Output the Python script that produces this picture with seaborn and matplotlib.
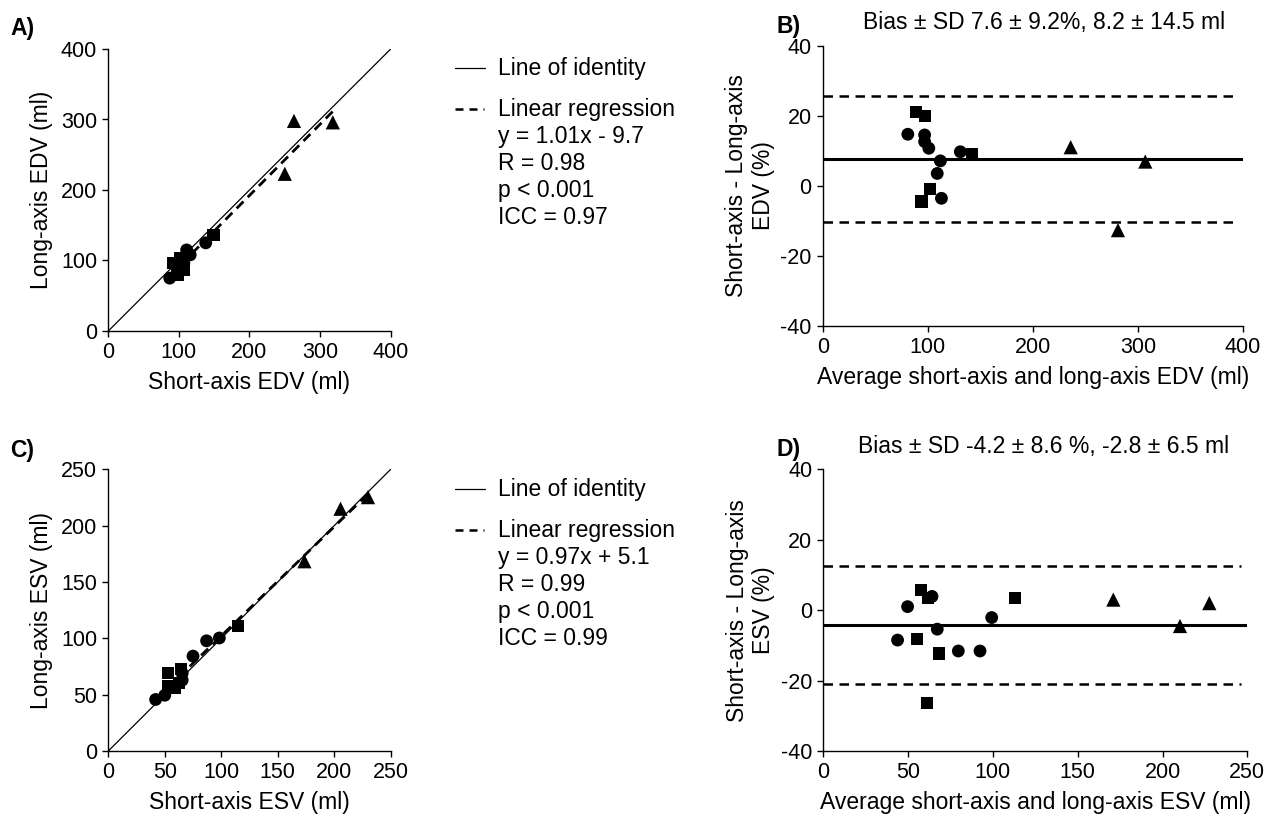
import pandas as pd
import matplotlib
matplotlib.use('Agg')
import matplotlib.pyplot as plt
from matplotlib.lines import Line2D
import seaborn as sns

# ---- EDV: short-axis vs long-axis (ml) ----
edv_circle_sa = [87, 104, 103, 107, 138, 116, 110, 111]
edv_circle_la = [75, 90, 91, 96, 125, 108, 107, 115]
edv_square_sa = [98, 107, 149, 102, 92]
edv_square_la = [79, 87, 136, 103, 96]
edv_triangle_sa = [250, 318, 263]
edv_triangle_la = [223, 296, 298]

# ---- EDV Bland-Altman: mean (ml) and difference (%) ----
edv_circle_mean = [81, 97, 97, 101, 131, 112, 109, 113]
edv_circle_diff = [14.7, 14.5, 12.6, 10.7, 9.7, 7.1, 3.5, -3.6]
edv_square_mean = [89, 97, 142, 102, 94]
edv_square_diff = [21.0, 20.0, 9.0, -1.0, -4.5]
edv_triangle_mean = [236, 307, 281]
edv_triangle_diff = [11.0, 6.9, -12.7]

# ---- ESV: short-axis vs long-axis (ml) ----
esv_circle_sa = [50.0, 41.9, 65.4, 65.4, 75.0, 87.0, 98.3]
esv_circle_la = [49.5, 45.7, 62.9, 69.0, 84.2, 97.8, 100.3]
esv_square_sa = [59.4, 53.2, 64.2, 52.9, 115.0, 62.8]
esv_square_la = [56.2, 57.6, 72.6, 68.9, 111.0, 60.6]
esv_triangle_sa = [173.6, 229.9, 205.6]
esv_triangle_la = [168.4, 225.3, 215.0]

# ---- ESV Bland-Altman ----
esv_circle_mean = [49.7, 43.8, 64.1, 67.2, 79.6, 92.4, 99.3]
esv_circle_diff = [1.0, -8.5, 3.9, -5.4, -11.6, -11.6, -2.1]
esv_square_mean = [57.8, 55.4, 68.4, 60.9, 113.0, 61.7]
esv_square_diff = [5.6, -8.1, -12.3, -26.4, 3.5, 3.5]
esv_triangle_mean = [171, 227.6, 210.3]
esv_triangle_diff = [3.0, 2.0, -4.5]

# regression / agreement stats
edv_slope, edv_icpt = 1.01, -9.7
esv_slope, esv_icpt = 0.97, 5.1
edv_bias, edv_sd = 7.6, 9.2
esv_bias, esv_sd = -4.2, 8.6

edv_stats = ['y = 1.01x - 9.7', 'R = 0.98', 'p < 0.001', 'ICC = 0.97']
esv_stats = ['y = 0.97x + 5.1', 'R = 0.99', 'p < 0.001', 'ICC = 0.99']

MARKERS = {'circle': 'o', 'square': 's', 'triangle': '^'}
SIZES = {'circle': 85, 'square': 76, 'triangle': 105}


def make_df(c, s, t, xname, yname):
    rows = []
    for shape, (xs, ys) in zip(['circle', 'square', 'triangle'], [c, s, t]):
        for x, y in zip(xs, ys):
            rows.append({xname: x, yname: y, 'shape': shape})
    return pd.DataFrame(rows)


df_a = make_df((edv_circle_sa, edv_circle_la), (edv_square_sa, edv_square_la),
               (edv_triangle_sa, edv_triangle_la), 'sa', 'la')
df_b = make_df((edv_circle_mean, edv_circle_diff), (edv_square_mean, edv_square_diff),
               (edv_triangle_mean, edv_triangle_diff), 'mean', 'diff')
df_c = make_df((esv_circle_sa, esv_circle_la), (esv_square_sa, esv_square_la),
               (esv_triangle_sa, esv_triangle_la), 'sa', 'la')
df_d = make_df((esv_circle_mean, esv_circle_diff), (esv_square_mean, esv_square_diff),
               (esv_triangle_mean, esv_triangle_diff), 'mean', 'diff')

sns.set_style('ticks')
plt.rcParams['font.family'] = ['Liberation Sans', 'DejaVu Sans']
plt.rcParams['axes.unicode_minus'] = False
plt.rcParams['text.color'] = 'black'
plt.rcParams['axes.labelcolor'] = 'black'
plt.rcParams['axes.edgecolor'] = 'black'
plt.rcParams['xtick.color'] = 'black'
plt.rcParams['ytick.color'] = 'black'
plt.rcParams['axes.linewidth'] = 1.0
plt.rcParams['xtick.major.width'] = 1.0
plt.rcParams['ytick.major.width'] = 1.0
plt.rcParams['xtick.major.size'] = 4.5
plt.rcParams['ytick.major.size'] = 4.5
plt.rcParams['xtick.labelsize'] = 15.5
plt.rcParams['ytick.labelsize'] = 15.5
plt.rcParams['axes.labelsize'] = 16.5

W, H = 1266, 822
fig = plt.figure(figsize=(W / 100, H / 100), dpi=100)


def box(x0, y0, x1, y1):
    return [x0 / W, 1 - y1 / H, (x1 - x0) / W, (y1 - y0) / H]


def fx(px):
    return px / W


def fy(py):
    return 1 - py / H


def scatter(ax, df, x, y):
    sns.scatterplot(data=df, x=x, y=y, style='shape', markers=MARKERS,
                    size='shape', sizes=SIZES, color='black', linewidth=0,
                    legend=False, ax=ax, clip_on=False, zorder=3)


def correlation_panel(ax, df, lim, step, slope, icpt, name):
    ax.plot([0, lim], [0, lim], color='black', lw=0.9, zorder=2)
    x0, x1 = df['sa'].min(), df['sa'].max()
    ax.plot([x0, x1], [slope * x0 + icpt, slope * x1 + icpt], color='black',
            lw=2.0, ls=(0, (3.5, 2.2)), zorder=2)
    scatter(ax, df, 'sa', 'la')
    ax.set_xlim(0, lim)
    ax.set_ylim(0, lim)
    ax.set_xticks(range(0, lim + 1, step))
    ax.set_yticks(range(0, lim + 1, step))
    ax.set_xlabel(f'Short-axis {name} (ml)', labelpad=6)
    ax.set_ylabel(f'Long-axis {name} (ml)', labelpad=6)
    sns.despine(ax=ax)


def ba_panel(ax, df, xlim, bias, sd, name):
    ax.axhline(bias, color='black', lw=2.2, zorder=2)
    for k in (-1.96, 1.96):
        ax.axhline(bias + k * sd, xmin=0, xmax=0.985, color='black', lw=1.8,
                   ls=(0, (3.8, 2.6)), zorder=2)
    scatter(ax, df, 'mean', 'diff')
    ax.set_xlim(0, xlim)
    ax.set_ylim(-40, 40)
    ax.set_yticks([-40, -20, 0, 20, 40])
    ax.set_xlabel(f'Average short-axis and long-axis {name} (ml)', labelpad=6)
    ax.set_ylabel(f'Short-axis - Long-axis\n{name} (%)', labelpad=4)
    sns.despine(ax=ax)


ax_a = fig.add_axes(box(108.3, 49, 390.7, 331))
ax_b = fig.add_axes(box(822.7, 45.7, 1243, 325.7))
ax_c = fig.add_axes(box(108.3, 469.3, 390.7, 751))
ax_d = fig.add_axes(box(823.3, 469.3, 1247.3, 751))

correlation_panel(ax_a, df_a, 400, 100, edv_slope, edv_icpt, 'EDV')
correlation_panel(ax_c, df_c, 250, 50, esv_slope, esv_icpt, 'ESV')
ba_panel(ax_b, df_b, 400, edv_bias, edv_sd, 'EDV')
ax_b.set_xticks(range(0, 401, 100))
ba_panel(ax_d, df_d, 250, esv_bias, esv_sd, 'ESV')
ax_d.set_xticks(range(0, 251, 50))

# panel titles
fig.text(fx(1044), fy(23), 'Bias ± SD 7.6 ± 9.2%, 8.2 ± 14.5 ml',
         ha='center', va='center', fontsize=16.5)
fig.text(fx(1044), fy(446), 'Bias ± SD -4.2 ± 8.6 %, -2.8 ± 6.5 ml',
         ha='center', va='center', fontsize=16.5)

# panel letters
for lab, (px, py) in {'A)': (10, 28), 'B)': (777, 27),
                      'C)': (10, 450), 'D)': (777, 449)}.items():
    fig.text(fx(px), fy(py), lab, ha='left', va='center', fontsize=16.5,
             fontweight='bold')


# hand-made legends
def legend_block(top, stats):
    fig.add_artist(Line2D([fx(455), fx(485)], [fy(top), fy(top)],
                          color='black', lw=0.9, transform=fig.transFigure))
    fig.text(fx(498), fy(top), 'Line of identity', ha='left', va='center',
             fontsize=16.5)
    y_reg = top + 39
    fig.add_artist(Line2D([fx(455), fx(484)], [fy(y_reg + 2), fy(y_reg + 2)],
                          color='black', lw=1.8, ls=(0, (3.2, 2.4)),
                          transform=fig.transFigure))
    fig.text(fx(498), fy(y_reg), 'Linear regression', ha='left',
             va='center_baseline', fontsize=16.5)
    for i, s in enumerate(stats):
        fig.text(fx(498), fy(y_reg + 27 * (i + 1)), s, ha='left',
                 va='center_baseline', fontsize=16.5)


legend_block(68, edv_stats)
legend_block(489, esv_stats)

fig.savefig('out.png', dpi=100)
